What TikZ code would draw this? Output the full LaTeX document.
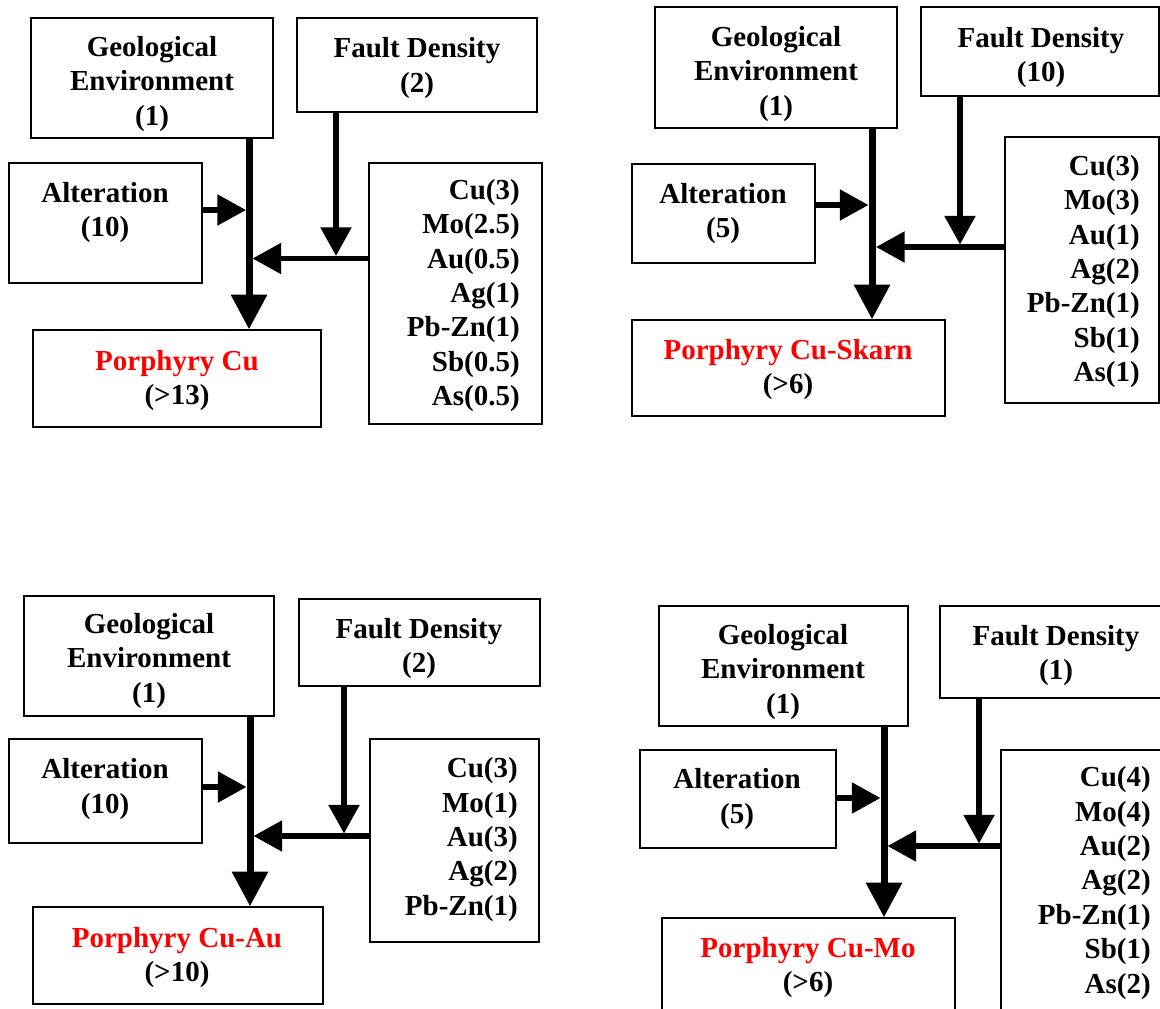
\documentclass[tikz,border=0pt]{standalone}
\usepackage{fontspec}
\setmainfont{Liberation Serif}
\usetikzlibrary{arrows.meta,fit}

\newcommand{\lblfont}{\bfseries\fontsize{21.75pt}{25.8pt}\selectfont}

\tikzset{
  box/.style={draw=black, line width=1pt, inner sep=0pt},
  lbl/.style={align=center, font=\lblfont, inner sep=0pt},
  lblr/.style={align=right, font=\lblfont, inner sep=0pt, anchor=east},
  mainarr/.style={line width=5.25pt, -{Triangle[width=26pt,length=26pt]}},
  arr/.style={line width=4pt, -{Triangle[width=22.5pt,length=21.5pt]}},
  deposit/.style={text=red}
}

\begin{document}
\begin{tikzpicture}[x=0.75pt,y=-0.75pt]
\useasboundingbox (0,0) rectangle (1160,1008);
\fill[white] (0,0) rectangle (1160,1008);
\clip (0,0) rectangle (1160,1008);

% ---------------- Porphyry Cu ----------------
\node[box, fit={(31,18) (273,138)}] (p1geo) {};
\node[box, fit={(297,18) (537,112)}] (p1fault) {};
\node[box, fit={(9,163) (202,283)}] (p1alt) {};
\node[box, fit={(369,163) (542,424)}] (p1el) {};
\node[box, fit={(33,330) (321,427)}] (p1res) {};
\node[lbl] (p1geot) at (152,84) {Geological\\Environment\\(1)};
\node[lbl] (p1faultt) at (417,68) {Fault Density\\(2)};
\node[lbl] (p1altt) at (105,212.5) {Alteration\\(10)};
\node[lblr] (p1elt) at (520,295.5) {Cu(3)\\Mo(2.5)\\Au(0.5)\\Ag(1)\\Pb-Zn(1)\\Sb(0.5)\\As(0.5)};
\node[lbl] (p1rest) at (177,380.5) {\textcolor{red}{Porphyry Cu}\\(>13)};
\coordinate (p1m) at (249,258.5);
\coordinate (p1a) at (246,210);
\coordinate (p1f) at (336,256);
\coordinate (p1h) at (252.5,258.5);
\draw[mainarr] (p1m |- p1geo.south) -- (p1m |- p1res.north);
\draw[arr] (p1a -| p1alt.east) -- (p1a);
\draw[arr] (p1f |- p1fault.south) -- (p1f);
\draw[arr] (p1h -| p1el.west) -- (p1h);

% ---------------- Porphyry Cu-Skarn ----------------
\node[box, fit={(655,7) (897,128)}] (p2geo) {};
\node[box, fit={(921,7) (1159,96)}] (p2fault) {};
\node[box, fit={(632,164) (815,263)}] (p2alt) {};
\node[box, fit={(1005,137) (1159,403)}] (p2el) {};
\node[box, fit={(632,320) (945,416)}] (p2res) {};
\node[lbl] (p2geot) at (776,74) {Geological\\Environment\\(1)};
\node[lbl] (p2faultt) at (1041,57.5) {Fault Density\\(10)};
\node[lbl] (p2altt) at (723,213.5) {Alteration\\(5)};
\node[lblr] (p2elt) at (1140,271.5) {Cu(3)\\Mo(3)\\Au(1)\\Ag(2)\\Pb-Zn(1)\\Sb(1)\\As(1)};
\node[lbl] (p2rest) at (788,369.5) {\textcolor{red}{Porphyry Cu-Skarn}\\(>6)};
\coordinate (p2m) at (872,247);
\coordinate (p2a) at (868.5,205);
\coordinate (p2f) at (960,244.5);
\coordinate (p2h) at (876,247);
\draw[mainarr] (p2m |- p2geo.south) -- (p2m |- p2res.north);
\draw[arr] (p2a -| p2alt.east) -- (p2a);
\draw[arr] (p2f |- p2fault.south) -- (p2f);
\draw[arr] (p2h -| p2el.west) -- (p2h);

% ---------------- Porphyry Cu-Au ----------------
\node[box, fit={(24,596) (274,716)}] (p3geo) {};
\node[box, fit={(299,599) (540,686)}] (p3fault) {};
\node[box, fit={(9,739) (202,843)}] (p3alt) {};
\node[box, fit={(370,739) (539,942)}] (p3el) {};
\node[box, fit={(33,907) (323,1004)}] (p3res) {};
\node[lbl] (p3geot) at (149,661) {Geological\\Environment\\(1)};
\node[lbl] (p3faultt) at (419,648.5) {Fault Density\\(2)};
\node[lbl] (p3altt) at (105,789) {Alteration\\(10)};
\node[lblr] (p3elt) at (518,839.5) {Cu(3)\\Mo(1)\\Au(3)\\Ag(2)\\Pb-Zn(1)};
\node[lbl] (p3rest) at (177,957.5) {\textcolor{red}{Porphyry Cu-Au}\\(>10)};
\coordinate (p3m) at (250,836);
\coordinate (p3a) at (246.5,787);
\coordinate (p3f) at (344,833.5);
\coordinate (p3h) at (253.5,836);
\draw[mainarr] (p3m |- p3geo.south) -- (p3m |- p3res.north);
\draw[arr] (p3a -| p3alt.east) -- (p3a);
\draw[arr] (p3f |- p3fault.south) -- (p3f);
\draw[arr] (p3h -| p3el.west) -- (p3h);

% ---------------- Porphyry Cu-Mo ----------------
\node[box, fit={(659,606) (908,726)}] (p4geo) {};
\node[box, fit={(940,606) (1175,698)}] (p4fault) {};
\node[box, fit={(640,750) (836,848)}] (p4alt) {};
\node[box, fit={(1001,750) (1175,1025)}] (p4el) {};
\node[box, fit={(662,918) (955,1025)}] (p4res) {};
\node[lbl] (p4geot) at (783,672) {Geological\\Environment\\(1)};
\node[lbl] (p4faultt) at (1056,655.5) {Fault Density\\(1)};
\node[lbl] (p4altt) at (737,799) {Alteration\\(5)};
\node[lblr] (p4elt) at (1151,883) {Cu(4)\\Mo(4)\\Au(2)\\Ag(2)\\Pb-Zn(1)\\Sb(1)\\As(2)};
\node[lbl] (p4rest) at (808,967.5) {\textcolor{red}{Porphyry Cu-Mo}\\(>6)};
\coordinate (p4m) at (884,846);
\coordinate (p4a) at (880.5,798);
\coordinate (p4f) at (979,843.5);
\coordinate (p4h) at (887.5,846);
\draw[mainarr] (p4m |- p4geo.south) -- (p4m |- p4res.north);
\draw[arr] (p4a -| p4alt.east) -- (p4a);
\draw[arr] (p4f |- p4fault.south) -- (p4f);
\draw[arr] (p4h -| p4el.west) -- (p4h);
\end{tikzpicture}
\end{document}
